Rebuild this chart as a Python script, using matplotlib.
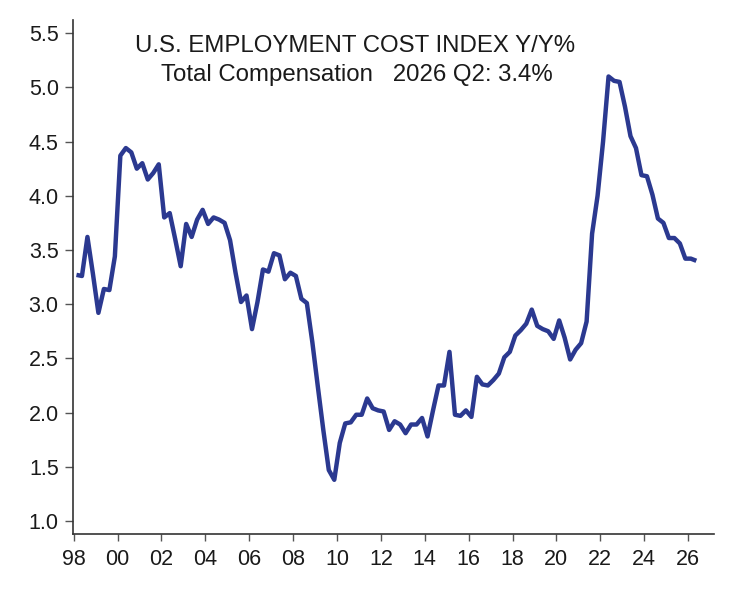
"""U.S. Employment Cost Index, total compensation, Y/Y%."""

import matplotlib
matplotlib.use('Agg')
import matplotlib.pyplot as plt
import numpy as np

# quarterly Y/Y % change, 1998Q1 .. 2026Q2
first_year = 1998
eci_yoy = [
    3.27, 3.26, 3.62, 3.28,   # 1998
    2.92, 3.14, 3.13, 3.44,   # 1999
    4.37, 4.44, 4.40, 4.25,   # 2000
    4.30, 4.15, 4.21, 4.29,   # 2001
    3.80, 3.84, 3.60, 3.35,   # 2002
    3.74, 3.62, 3.78, 3.87,   # 2003
    3.74, 3.80, 3.78, 3.75,   # 2004
    3.59, 3.29, 3.02, 3.08,   # 2005
    2.77, 3.02, 3.32, 3.30,   # 2006
    3.47, 3.45, 3.23, 3.29,   # 2007
    3.26, 3.05, 3.01, 2.65,   # 2008
    2.24, 1.84, 1.47, 1.38,   # 2009
    1.72, 1.90, 1.91, 1.98,   # 2010
    1.98, 2.13, 2.04, 2.02,   # 2011
    2.01, 1.84, 1.92, 1.89,   # 2012
    1.81, 1.89, 1.89, 1.95,   # 2013
    1.78, 2.02, 2.25, 2.25,   # 2014
    2.56, 1.98, 1.97, 2.02,   # 2015
    1.96, 2.33, 2.26, 2.25,   # 2016
    2.30, 2.36, 2.51, 2.56,   # 2017
    2.71, 2.76, 2.82, 2.95,   # 2018
    2.80, 2.77, 2.75, 2.68,   # 2019
    2.85, 2.69, 2.49, 2.58,   # 2020
    2.64, 2.84, 3.65, 4.00,   # 2021
    4.50, 5.10, 5.06, 5.05,   # 2022
    4.82, 4.55, 4.44, 4.19,   # 2023
    4.18, 4.01, 3.79, 3.75,   # 2024
    3.61, 3.61, 3.56, 3.42,   # 2025
    3.42, 3.40,               # 2026
]

yticks = [1.0, 1.5, 2.0, 2.5, 3.0, 3.5, 4.0, 4.5, 5.0, 5.5]
xtick_years = list(range(1998, 2027, 2))
xtick_labels = [f'{y % 100:02d}' for y in xtick_years]

title_1 = 'U.S. EMPLOYMENT COST INDEX Y/Y%'
title_2 = 'Total Compensation   2026 Q2: 3.4%'


def main():
    plt.rcParams['font.family'] = ['Liberation Sans', 'DejaVu Sans']

    # plot each quarter at its midpoint
    n = len(eci_yoy)
    x = first_year + (np.arange(n) + 0.5) / 4.0

    fig = plt.figure(figsize=(7.35, 5.9), dpi=100)
    ax = fig.add_axes([0.0997, 0.0949, 0.8717, 0.871])

    ax.plot(x, eci_yoy, color='#2B3990', linewidth=3.2,
            solid_joinstyle='round', solid_capstyle='butt')

    ax.set_xlim(1997.98, 2027.18)
    ax.set_ylim(0.88, 5.62)
    ax.set_yticks(yticks)
    ax.set_yticklabels([f'{v:.1f}' for v in yticks])
    ax.set_xticks(xtick_years)
    ax.set_xticklabels(xtick_labels)

    for side in ['top', 'right']:
        ax.spines[side].set_visible(False)
    for side in ['left', 'bottom']:
        ax.spines[side].set_color('#333333')
        ax.spines[side].set_linewidth(1.2)
    ax.tick_params(axis='both', direction='out', width=1.0,
                   color='#555555', labelsize=15.5, labelcolor='#1a1a1a')
    ax.tick_params(axis='y', length=6, pad=4.5)
    ax.tick_params(axis='x', length=5, pad=6)

    fig.text(0.483, 1 - 51.5 / 590, title_1, ha='center', va='baseline',
             fontsize=17.3, color='#1a1a1a')
    fig.text(0.486, 1 - 80.5 / 590, title_2, ha='center', va='baseline',
             fontsize=17.3, color='#1a1a1a')

    fig.savefig('out.png', dpi=100)
    plt.close(fig)


if __name__ == '__main__':
    main()
